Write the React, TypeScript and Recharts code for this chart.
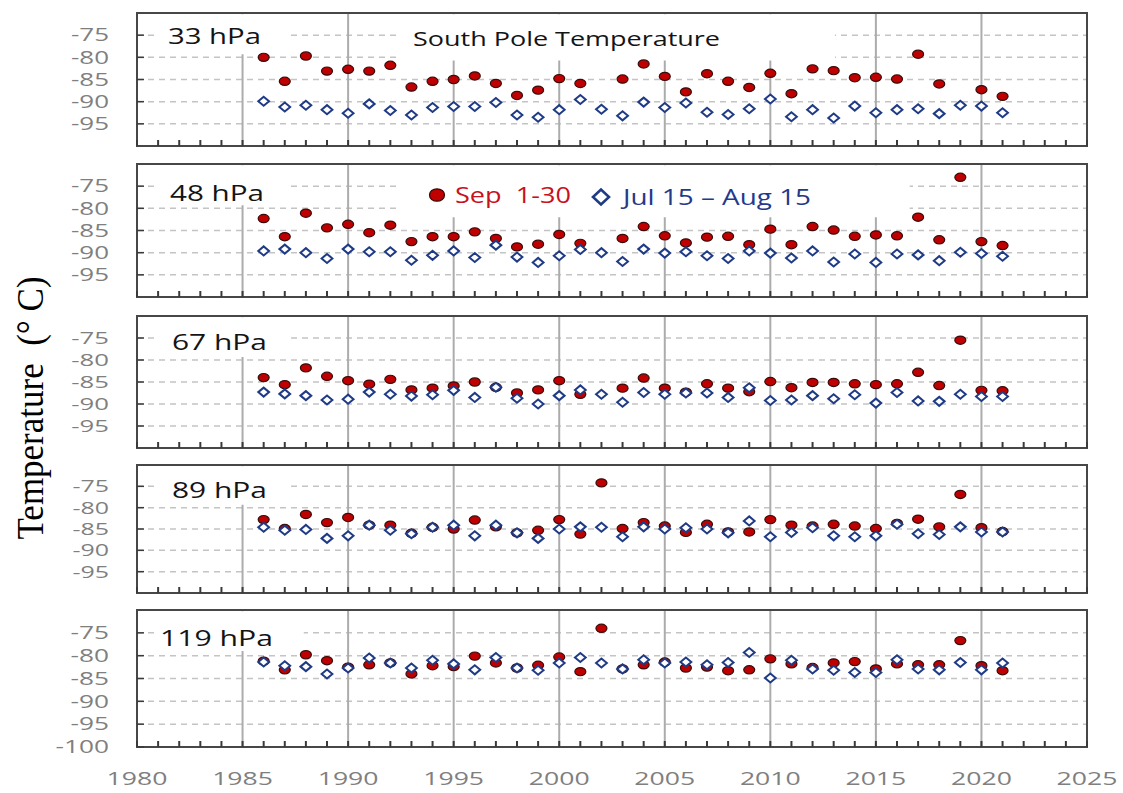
import React from 'react';
import { ScatterChart, Scatter, XAxis, YAxis, CartesianGrid, ReferenceArea } from 'recharts';

// ---------- data ----------
const YEARS = [
  1986, 1987, 1988, 1989, 1990, 1991, 1992, 1993, 1994, 1995, 1996, 1997,
  1998, 1999, 2000, 2001, 2002, 2003, 2004, 2005, 2006, 2007, 2008, 2009,
  2010, 2011, 2012, 2013, 2014, 2015, 2016, 2017, 2018, 2019, 2020, 2021,
];

// Sep 1-30 means (null = off the chart, warmer than -70)
const SEP_33 = [
  -80.0, -85.4, -79.7, -83.1, -82.7, -83.1, -81.8, -86.7, -85.4, -85.0, -84.2, -85.9,
  -88.6, -87.4, -84.8, -85.9, null, -84.9, -81.5, -84.3, -87.8, -83.7, -85.4, -86.8,
  -83.6, -88.2, -82.6, -83.0, -84.6, -84.5, -84.9, -79.3, -86.0, null, -87.3, -88.8,
];
const JUL_33 = [
  -89.9, -91.2, -90.8, -91.8, -92.6, -90.5, -92.0, -93.0, -91.3, -91.1, -91.1, -90.2,
  -93.0, -93.5, -91.8, -89.5, -91.7, -93.2, -90.1, -91.3, -90.3, -92.4, -92.9, -91.6,
  -89.4, -93.4, -91.8, -93.7, -91.0, -92.5, -91.8, -91.6, -92.7, -90.8, -91.0, -92.5,
];

const SEP_48 = [
  -82.3, -86.4, -81.1, -84.4, -83.6, -85.5, -83.8, -87.5, -86.4, -86.4, -85.3, -86.8,
  -88.7, -88.1, -85.9, -87.9, null, -86.8, -84.1, -86.2, -87.8, -86.5, -86.3, -88.2,
  -84.7, -88.2, -84.1, -84.9, -86.3, -86.0, -86.2, -82.0, -87.1, -73.0, -87.5, -88.4,
];
const JUL_48 = [
  -89.6, -89.2, -90.0, -91.3, -89.2, -89.8, -89.8, -91.7, -90.6, -89.6, -91.1, -88.3,
  -91.0, -92.2, -90.7, -89.3, -90.0, -92.0, -89.2, -90.1, -89.8, -90.7, -91.3, -89.6,
  -90.1, -91.2, -89.6, -92.1, -90.3, -92.2, -90.3, -90.5, -91.8, -89.9, -90.2, -90.8,
];

const SEP_67 = [
  -84.0, -85.6, -81.8, -83.7, -84.7, -85.5, -84.4, -86.8, -86.4, -85.9, -85.0, -86.2,
  -87.5, -86.8, -84.7, -87.8, null, -86.4, -84.1, -86.4, -87.3, -85.4, -86.4, -87.2,
  -84.9, -86.3, -85.1, -85.1, -85.4, -85.6, -85.4, -82.8, -85.8, -75.5, -86.9, -87.0,
];
const JUL_67 = [
  -87.3, -87.7, -88.1, -89.1, -88.9, -87.3, -87.8, -88.2, -87.9, -86.9, -88.5, -86.2,
  -88.7, -90.0, -88.1, -86.8, -87.8, -89.6, -87.4, -87.8, -87.5, -87.5, -88.5, -86.3,
  -89.2, -89.1, -88.1, -88.8, -87.9, -89.8, -87.4, -89.3, -89.4, -87.8, -88.3, -88.3,
];

const SEP_89 = [
  -82.8, -84.9, -81.6, -83.5, -82.3, -84.1, -84.1, -86.0, -84.6, -85.0, -82.9, -84.5,
  -85.9, -85.3, -82.8, -86.2, -74.2, -84.9, -83.5, -84.3, -85.8, -83.9, -85.7, -85.7,
  -82.8, -84.1, -84.3, -83.9, -84.3, -84.9, -83.7, -82.7, -84.5, -76.9, -84.7, -85.6,
];
const JUL_89 = [
  -84.6, -85.3, -85.1, -87.2, -86.6, -84.1, -85.3, -86.1, -84.6, -84.1, -86.6, -84.1,
  -85.9, -87.2, -85.0, -84.5, -84.6, -86.8, -84.5, -85.0, -84.7, -85.0, -85.9, -83.1,
  -86.8, -85.8, -84.7, -86.6, -86.8, -86.6, -83.9, -86.1, -86.3, -84.5, -85.7, -85.7,
];

const SEP_119 = [
  -81.2, -83.1, -79.8, -81.1, -82.5, -82.0, -81.6, -84.0, -82.2, -82.4, -80.1, -81.6,
  -82.7, -82.1, -80.3, -83.5, -74.0, -82.9, -82.0, -81.4, -82.7, -82.5, -83.3, -83.1,
  -80.7, -81.8, -82.6, -81.6, -81.3, -82.9, -81.8, -82.0, -82.0, -76.7, -82.2, -83.3,
];
const JUL_119 = [
  -81.4, -82.2, -82.4, -84.0, -82.7, -80.5, -81.6, -82.7, -81.0, -81.8, -83.1, -80.4,
  -82.7, -83.2, -81.6, -80.4, -81.6, -82.9, -80.9, -81.6, -81.4, -82.0, -81.5, -79.3,
  -84.9, -81.0, -82.9, -83.2, -83.7, -83.7, -80.9, -82.9, -83.1, -81.5, -83.1, -81.6,
];

const X_TICKS = [
  1980, 1981, 1982, 1983, 1984, 1985, 1986, 1987, 1988, 1989, 1990, 1991, 1992, 1993,
  1994, 1995, 1996, 1997, 1998, 1999, 2000, 2001, 2002, 2003, 2004, 2005, 2006, 2007,
  2008, 2009, 2010, 2011, 2012, 2013, 2014, 2015, 2016, 2017, 2018, 2019, 2020, 2021,
  2022, 2023, 2024, 2025,
];
const X_LABELS = [1980, 1985, 1990, 1995, 2000, 2005, 2010, 2015, 2020, 2025];
const GRID_YEARS = [1985, 1990, 1995, 2000, 2005, 2010, 2015, 2020];
const Y_TICKS = [-95, -90, -85, -80, -75];
const Y_TICKS_LAST = [-100, -95, -90, -85, -80, -75];

const toPoints = (vals: (number | null)[]) =>
  YEARS.map((year, i) => ({ year, t: vals[i] })).filter((p) => p.t !== null);

// ---------- styles ----------
const FONT = "'Open Sans', 'Noto Sans', sans-serif";
const SX = 1.5;
const RED = '#c00000';
const BLUE = '#1f3b86';

const RedDot = (props: any) => {
  const { cx, cy } = props;
  if (cx == null || cy == null) return null;
  return <ellipse cx={cx} cy={cy} rx={5.5} ry={4.1} fill={RED} stroke="#3a0c0c" strokeWidth={1.2} />;
};

const BlueDiamond = (props: any) => {
  const { cx, cy } = props;
  if (cx == null || cy == null) return null;
  const hw = 5.4;
  const hh = 4.5;
  return (
    <path
      d={`M${cx - hw},${cy} L${cx},${cy - hh} L${cx + hw},${cy} L${cx},${cy + hh} Z`}
      fill="#ffffff"
      stroke={BLUE}
      strokeWidth={2}
    />
  );
};

const YTick = (props: any) => {
  const { x, y, payload, fs } = props;
  return (
    <text
      x={x}
      y={y}
      dy="0.36em"
      textAnchor="end"
      fontSize={fs}
      fill="#7f7f7f"
      fontFamily={FONT}
      transform={`translate(${x} 0) scale(${SX} 1) translate(${-x} 0)`}
    >
      {payload.value}
    </text>
  );
};

const XTick = (props: any) => {
  const { x, y, payload, show } = props;
  if (!show || !X_LABELS.includes(payload.value)) return <g />;
  return (
    <text
      x={x}
      y={y}
      dy="0.71em"
      textAnchor="middle"
      fontSize={19}
      fill="#7f7f7f"
      fontFamily={FONT}
      transform={`translate(${x} 0) scale(1.4 1) translate(${-x} 0)`}
    >
      {payload.value}
    </text>
  );
};

type PanelCfg = {
  key: string;
  top: number;
  h: number;
  sep: (number | null)[];
  jul: (number | null)[];
  boxes: number[][];
};

const PANELS: PanelCfg[] = [
  { key: '33', top: 13, h: 133, sep: SEP_33, jul: JUL_33,
    boxes: [[1980.9, 1987.15, -79.3, -70.3], [1992.4, 2013.06, -80.7, -70.3]] },
  { key: '48', top: 164, h: 133, sep: SEP_48, jul: JUL_48,
    boxes: [[1980.9, 1987.15, -79.3, -70.3], [1992.4, 2016.6, -82.0, -70.3]] },
  { key: '67', top: 316, h: 132, sep: SEP_67, jul: JUL_67,
    boxes: [[1980.9, 1987.3, -79.3, -70.3]] },
  { key: '89', top: 465, h: 128, sep: SEP_89, jul: JUL_89,
    boxes: [[1980.9, 1987.3, -79.3, -70.3]] },
  { key: '119', top: 610, h: 137, sep: SEP_119, jul: JUL_119,
    boxes: [[1980.9, 1987.9, -79.0, -70.3]] },
];

const Panel = ({ cfg, last }: { cfg: PanelCfg; last: boolean }) => {
  const mt = 5;
  const xh = last ? 50 : 4;
  const sepPts = toPoints(cfg.sep);
  const julPts = toPoints(cfg.jul);
  const fs = Math.min(17.5, (cfg.h / 6) * 0.78);
  return (
    <div style={{ position: 'absolute', left: 0, top: cfg.top - mt }}>
      <ScatterChart
        width={1123}
        height={mt + cfg.h + xh}
        margin={{ top: mt, right: 36, bottom: 0, left: 0 }}
      >
        <CartesianGrid
          vertical={false}
          horizontalValues={Y_TICKS}
          stroke="#c4c4c4"
          strokeWidth={1.5}
          strokeDasharray="6 5"
        />
        <CartesianGrid
          horizontal={false}
          verticalValues={GRID_YEARS}
          stroke="#acacac"
          strokeWidth={2}
        />
        {cfg.boxes.map((b, i) => (
          <ReferenceArea
            key={i}
            x1={b[0]}
            x2={b[1]}
            y1={b[2]}
            y2={b[3]}
            fill="#ffffff"
            fillOpacity={1}
            stroke="none"
            ifOverflow="visible"
          />
        ))}
        <ReferenceArea
          x1={1980}
          x2={2025}
          y1={-100}
          y2={-70}
          fill="none"
          fillOpacity={0}
          stroke="#474747"
          strokeWidth={2}
          ifOverflow="visible"
        />
        <XAxis
          type="number"
          dataKey="year"
          domain={[1980, 2025]}
          ticks={X_TICKS}
          interval={0}
          allowDataOverflow
          axisLine={false}
          tickLine={{ stroke: '#3a3a3a', strokeWidth: 2 }}
          tickSize={-6}
          tickMargin={31}
          height={xh}
          tick={<XTick show={last} />}
        />
        <YAxis
          type="number"
          dataKey="t"
          domain={[-100, -70]}
          ticks={last ? Y_TICKS_LAST : Y_TICKS}
          interval={0}
          allowDataOverflow
          width={137}
          axisLine={false}
          tickLine={{ stroke: '#3a3a3a', strokeWidth: 1.5 }}
          tickSize={-7}
          tickMargin={35}
          tick={<YTick fs={fs} />}
        />
        <Scatter data={sepPts} shape={RedDot} isAnimationActive={false} />
        <Scatter data={julPts} shape={BlueDiamond} isAnimationActive={false} />
      </ScatterChart>
    </div>
  );
};

const PANEL_LABELS = [
  { text: '33 hPa', x: 168, y: 44, w: 93 },
  { text: '48 hPa', x: 170, y: 201, w: 94 },
  { text: '67 hPa', x: 172, y: 350, w: 95 },
  { text: '89 hPa', x: 172, y: 498, w: 95 },
  { text: '119 hPa', x: 160, y: 646, w: 113 },
];

export default function App() {
  return (
    <div
      style={{
        position: 'absolute',
        left: 0,
        top: 0,
        width: 1123,
        height: 793,
        background: '#ffffff',
        overflow: 'hidden',
      }}
    >
      {PANELS.map((p, i) => (
        <Panel key={p.key} cfg={p} last={i === PANELS.length - 1} />
      ))}
      <svg
        width={1123}
        height={793}
        style={{ position: 'absolute', left: 0, top: 0, pointerEvents: 'none' }}
      >
        <text
          transform="translate(31 408) scale(1.07 1) rotate(-90)"
          textAnchor="middle"
          dominantBaseline="central"
          fontFamily="'Liberation Serif', 'Times New Roman', serif"
          fontSize={35}
          fill="#000000"
        >
          {'Temperature\u00a0\u00a0(°\u00a0C)'}
        </text>
        {PANEL_LABELS.map((l) => (
          <text
            key={l.text}
            x={l.x}
            y={l.y}
            fontFamily={FONT}
            fontSize={21}
            fill="#141414"
            textLength={l.w}
            lengthAdjust="spacingAndGlyphs"
          >
            {l.text}
          </text>
        ))}
        <text
          x={413}
          y={46}
          fontFamily={FONT}
          fontSize={20}
          fill="#141414"
          textLength={307}
          lengthAdjust="spacingAndGlyphs"
        >
          South Pole Temperature
        </text>
        <ellipse cx={437} cy={195} rx={7.5} ry={6.2} fill={RED} stroke="#3a0c0c" strokeWidth={1.3} />
        <text
          x={455}
          y={203}
          fontFamily={FONT}
          fontSize={21}
          fill="#c8101e"
          textLength={116}
          lengthAdjust="spacingAndGlyphs"
        >
          {'Sep\u00a0\u00a01-30'}
        </text>
        <path d="M593,197 L601,189.5 L609,197 L601,204.5 Z" fill="#ffffff" stroke={BLUE} strokeWidth={2.6} />
        <text
          x={623}
          y={205}
          fontFamily={FONT}
          fontSize={21}
          fill="#24398a"
          textLength={188}
          lengthAdjust="spacingAndGlyphs"
        >
          Jul 15 – Aug 15
        </text>
      </svg>
    </div>
  );
}
